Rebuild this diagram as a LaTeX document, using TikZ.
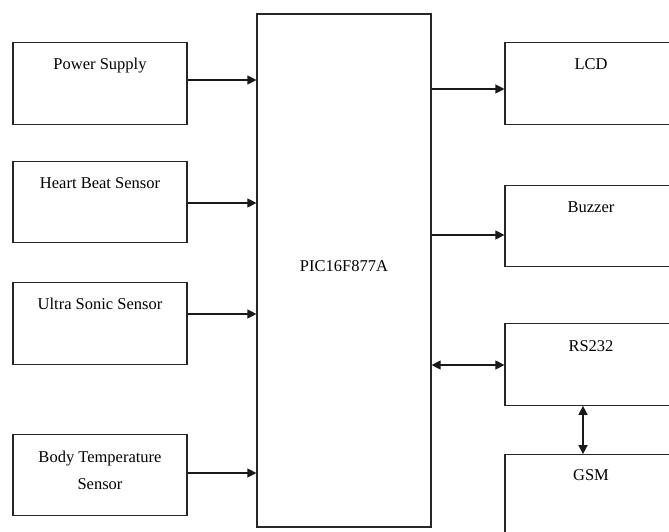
\documentclass[tikz,border=0pt]{standalone}
\usepackage{fontspec}
\setmainfont{Liberation Serif}
\usetikzlibrary{arrows.meta}
\begin{document}
\begin{tikzpicture}[x=1pt,y=-1pt,
  box/.style={draw=black!85,line width=1.2pt,rectangle,inner sep=0pt,minimum width=174pt,minimum height=81.5pt},
  lbl/.style={anchor=base,font=\fontsize{16.5}{27}\selectfont,inner sep=0pt,align=center},
  arr/.style={draw=black!90,line width=1.3pt,-{Triangle[length=9pt,width=9pt]}},
  darr/.style={draw=black!90,line width=1.3pt,{Triangle[length=9pt,width=9pt]}-{Triangle[length=9pt,width=9pt]}}]
\clip (0,0) rectangle (669,532);
\fill[white] (0,0) rectangle (669,532);
% main controller
\node[box,minimum width=174pt,minimum height=513pt] (pic) at (344,270.5) {};
\node[lbl] (pict) at (344,271) {PIC16F877A};
% left blocks
\node[box] (ps) at (100,83.5) {};
\node[lbl] (pst) at (100,70) {Power Supply};
\node[box] (hb) at (100,202) {};
\node[lbl] (hbt) at (100,188) {Heart Beat Sensor};
\node[box] (us) at (100,323.5) {};
\node[lbl] (ust) at (100,309.5) {Ultra Sonic Sensor};
\node[box] (bt) at (100,475) {};
\node[lbl] (btt) at (100,489) {Body Temperature\\Sensor};
% right blocks
\node[box] (lcd) at (592,83.5) {};
\node[lbl] (lcdt) at (591,70) {LCD};
\node[box] (bz) at (592,226) {};
\node[lbl] (bzt) at (591,212) {Buzzer};
\node[box] (rs) at (592,364.5) {};
\node[lbl] (rst) at (591,351) {RS232};
\node[box] (gsm) at (592,495.5) {};
\node[lbl] (gsmt) at (591,480) {GSM};
% connectors
\draw[arr] (ps.east |- 0,80) -- (pic.west |- 0,80);
\draw[arr] (hb.east |- 0,203) -- (pic.west |- 0,203);
\draw[arr] (us.east |- 0,314) -- (pic.west |- 0,314);
\draw[arr] (bt.east |- 0,473) -- (pic.west |- 0,473);
\draw[arr] (pic.east |- 0,89) -- (lcd.west |- 0,89);
\draw[arr] (pic.east |- 0,235) -- (bz.west |- 0,235);
\draw[darr] (pic.east |- 0,365) -- (rs.west |- 0,365);
\draw[darr] (rs.south -| 583,0) -- (gsm.north -| 583,0);
\end{tikzpicture}
\end{document}
